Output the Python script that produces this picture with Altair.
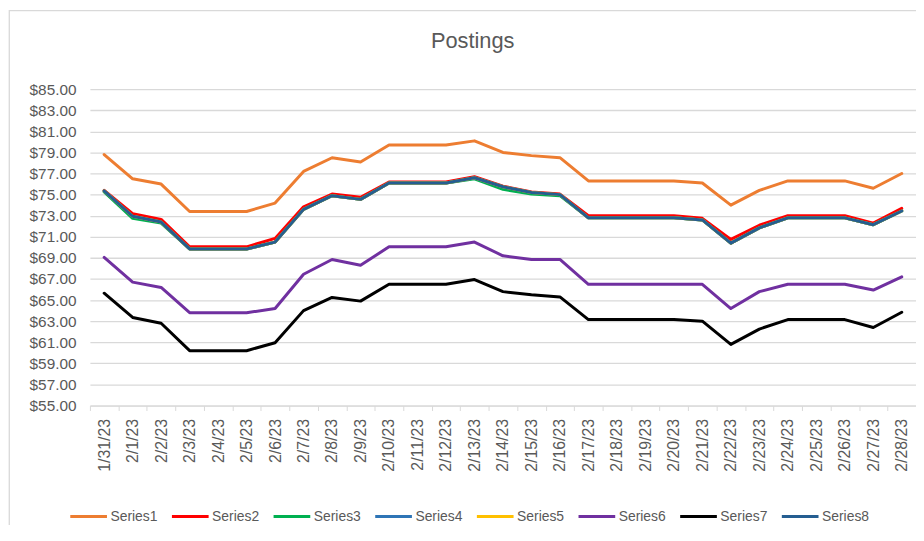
import altair as alt
import pandas as pd

dates = ["1/31/23"] + [f"2/{d}/23" for d in range(1, 29)]

series1 = [78.8, 76.5, 76.0, 73.4, 73.4, 73.4, 74.2, 77.2, 78.5, 78.1, 79.7, 79.7, 79.7, 80.1, 79.0,
           78.7, 78.5, 76.3, 76.3, 76.3, 76.3, 76.1, 74.0, 75.4, 76.3, 76.3, 76.3, 75.6, 77.0]
series2 = [75.4, 73.2, 72.65, 70.05, 70.05, 70.05, 70.85, 73.85, 75.05, 74.75, 76.2, 76.2, 76.2, 76.7, 75.8,
           75.25, 75.05, 73.0, 73.0, 73.0, 73.0, 72.75, 70.75, 72.1, 73.0, 73.0, 73.0, 72.3, 73.7]
series3 = [75.25, 72.75, 72.3, 69.85, 69.85, 69.85, 70.5, 73.6, 74.9, 74.55, 76.1, 76.1, 76.1, 76.5, 75.5,
           75.05, 74.9, 72.8, 72.8, 72.8, 72.8, 72.6, 70.4, 71.85, 72.8, 72.8, 72.8, 72.15, 73.45]
series4 = [75.35, 72.95, 72.4, 69.85, 69.85, 69.85, 70.5, 73.6, 74.9, 74.55, 76.1, 76.1, 76.1, 76.6, 75.75,
           75.2, 75.0, 72.8, 72.8, 72.8, 72.8, 72.6, 70.4, 71.85, 72.8, 72.8, 72.8, 72.15, 73.45]
series5 = [75.35, 72.95, 72.4, 69.85, 69.85, 69.85, 70.5, 73.6, 74.9, 74.55, 76.1, 76.1, 76.1, 76.6, 75.75,
           75.2, 75.0, 72.8, 72.8, 72.8, 72.8, 72.6, 70.4, 71.85, 72.8, 72.8, 72.8, 72.15, 73.45]
series6 = [69.05, 66.7, 66.2, 63.8, 63.8, 63.8, 64.2, 67.45, 68.85, 68.3, 70.05, 70.05, 70.05, 70.5, 69.2,
           68.85, 68.85, 66.5, 66.5, 66.5, 66.5, 66.5, 64.2, 65.8, 66.5, 66.5, 66.5, 65.95, 67.2]
series7 = [65.65, 63.35, 62.8, 60.2, 60.2, 60.2, 60.95, 64.0, 65.25, 64.9, 66.5, 66.5, 66.5, 66.95, 65.8,
           65.5, 65.3, 63.15, 63.15, 63.15, 63.15, 63.0, 60.8, 62.25, 63.15, 63.15, 63.15, 62.4, 63.85]
series8 = [75.35, 72.95, 72.4, 69.85, 69.85, 69.85, 70.5, 73.6, 74.9, 74.55, 76.1, 76.1, 76.1, 76.6, 75.75,
           75.2, 75.0, 72.8, 72.8, 72.8, 72.8, 72.6, 70.4, 71.85, 72.8, 72.8, 72.8, 72.15, 73.45]

names = ["Series1", "Series2", "Series3", "Series4", "Series5", "Series6", "Series7", "Series8"]
colors = ["#ED7D31", "#FF0000", "#00B050", "#2E75B6", "#FFC000", "#7030A0", "#000000", "#255E91"]
widths = [3, 3, 3, 3, 3, 3, 3, 5]
all_series = [series1, series2, series3, series4, series5, series6, series7, series8]

rows = []
for i, (n, vals) in enumerate(zip(names, all_series)):
    for d, v in zip(dates, vals):
        rows.append({"date": d, "value": v, "series": n, "order": i})
df = pd.DataFrame(rows)

FONT = "Liberation Sans"
GRAY = "#595959"
GRID = "#D9D9D9"

lines = alt.Chart(df).mark_line(strokeCap="round", strokeJoin="round").encode(
    x=alt.X("date:O", sort=dates, title=None,
            scale=alt.Scale(type="band", paddingInner=0, paddingOuter=0),
            axis=alt.Axis(labelAngle=270, labelFont=FONT, labelFontSize=16, labelColor=GRAY,
                          labelPadding=8, tickSize=5, tickColor=GRID, domainColor=GRID,
                          tickBand="extent", grid=False, labelAlign="right", labelBaseline="middle")),
    y=alt.Y("value:Q", title=None,
            scale=alt.Scale(domain=[55, 85], nice=False, zero=False),
            axis=alt.Axis(values=list(range(55, 86, 2)), format="$.2f", labelFont=FONT,
                          labelFontSize=15.5, labelColor=GRAY, labelPadding=14, ticks=False,
                          domain=False, grid=True, gridColor=GRID, gridWidth=1.3)),
    color=alt.Color("series:N", scale=alt.Scale(domain=names, range=colors), title=None,
                    legend=alt.Legend(orient="none", legendX=-21.3, legendY=411, direction="horizontal",
                                      columns=8, symbolType="stroke", symbolSize=1369,
                                      symbolStrokeWidth=3, labelFont=FONT, labelFontSize=14,
                                      labelColor=GRAY, labelOffset=2, columnPadding=7.5, padding=0)),
    strokeWidth=alt.StrokeWidth("series:N", scale=alt.Scale(domain=names, range=widths), legend=None),
    order=alt.Order("order:Q"),
)

title = alt.Chart(pd.DataFrame({"t": ["Postings"]})).mark_text(
    font=FONT, fontSize=22, color=GRAY, align="center", baseline="alphabetic"
).encode(text="t:N", x=alt.value(386), y=alt.value(-42))

border = alt.Chart(pd.DataFrame({"a": [0]})).mark_rect(
    fillOpacity=0, stroke=GRID, strokeWidth=1.3
).encode(x=alt.value(-81.3), x2=alt.value(900), y=alt.value(-79.2), y2=alt.value(600))

chart = alt.layer(border, lines, title).properties(
    width=833, height=319,
    autosize=alt.AutoSizeParams(type="none"),
    padding={"left": 82.6, "top": 79.7, "right": 0, "bottom": 118},
).configure_view(stroke=None)

chart.save("out.html", embed_options={"renderer": "svg", "actions": False})
